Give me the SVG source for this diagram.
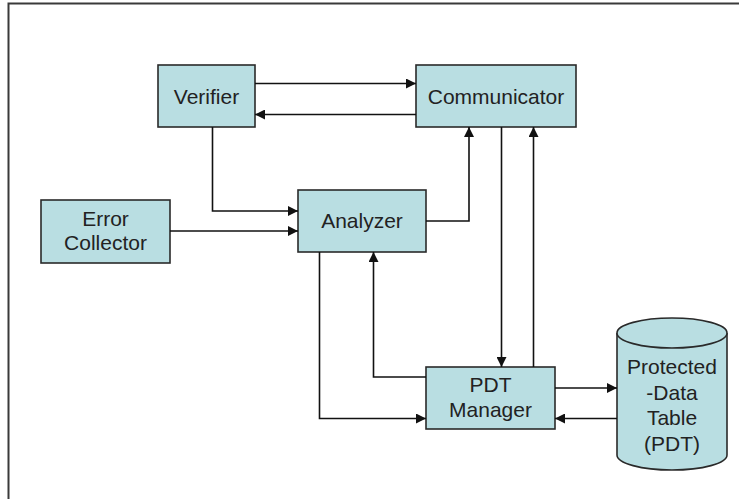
<svg xmlns="http://www.w3.org/2000/svg" width="739" height="499" viewBox="0 0 739 499">
<style>
.box{fill:#B9DEE2;stroke:#2a2a2a;stroke-width:1.6}
.t{font-family:"Liberation Sans",Arial,sans-serif;font-size:21px;fill:#222;text-anchor:middle}
.c{fill:none;stroke:#111;stroke-width:1.6}
</style>
<defs>
<marker id="ah" viewBox="0 0 10 10" refX="10" refY="5" markerWidth="10" markerHeight="10" markerUnits="userSpaceOnUse" orient="auto">
<path d="M0,0 L10,5 L0,10 z" fill="#111"/>
</marker>
</defs>
<rect width="739" height="499" fill="#fff"/>
<path d="M8.5,499 V3.5 H739" fill="none" stroke="#3a3a3a" stroke-width="2"/>
<g id="verifier"><rect class="box" x="158" y="65" width="97" height="62"/><text class="t" x="206.5" y="103.5">Verifier</text></g>
<g id="communicator"><rect class="box" x="416" y="65" width="160" height="62"/><text class="t" x="496" y="103.5">Communicator</text></g>
<g id="error-collector"><rect class="box" x="41" y="200" width="129" height="63"/><text class="t" x="105.5" y="226">Error</text><text class="t" x="105.5" y="250">Collector</text></g>
<g id="analyzer"><rect class="box" x="298" y="190" width="128" height="62"/><text class="t" x="362" y="228">Analyzer</text></g>
<g id="pdt-manager"><rect class="box" x="426" y="367" width="129" height="62"/><text class="t" x="490.5" y="391.5">PDT</text><text class="t" x="490.5" y="416.5">Manager</text></g>
<g id="pdt">
<path class="box" d="M617,333 V455 A55,15 0 0 0 727,455 V333"/>
<ellipse class="box" cx="672" cy="333" rx="55" ry="15"/>
<text class="t" x="672" y="374">Protected</text>
<text class="t" x="672" y="399.5">-Data</text>
<text class="t" x="672" y="425">Table</text>
<text class="t" x="672" y="451">(PDT)</text>
</g>
<g id="connectors">
<path class="c" d="M255,83.5 H416" marker-end="url(#ah)"/>
<path class="c" d="M416,114.5 H255" marker-end="url(#ah)"/>
<path class="c" d="M212.5,127 V211 H298" marker-end="url(#ah)"/>
<path class="c" d="M170,231 H298" marker-end="url(#ah)"/>
<path class="c" d="M426,221 H469 V127" marker-end="url(#ah)"/>
<path class="c" d="M501.5,127 V367" marker-end="url(#ah)"/>
<path class="c" d="M533.5,367 V127" marker-end="url(#ah)"/>
<path class="c" d="M426,377 H373.5 V252" marker-end="url(#ah)"/>
<path class="c" d="M319.5,252 V418.5 H426" marker-end="url(#ah)"/>
<path class="c" d="M555,388 H617" marker-end="url(#ah)"/>
<path class="c" d="M617,418.5 H555" marker-end="url(#ah)"/>
</g>
</svg>
